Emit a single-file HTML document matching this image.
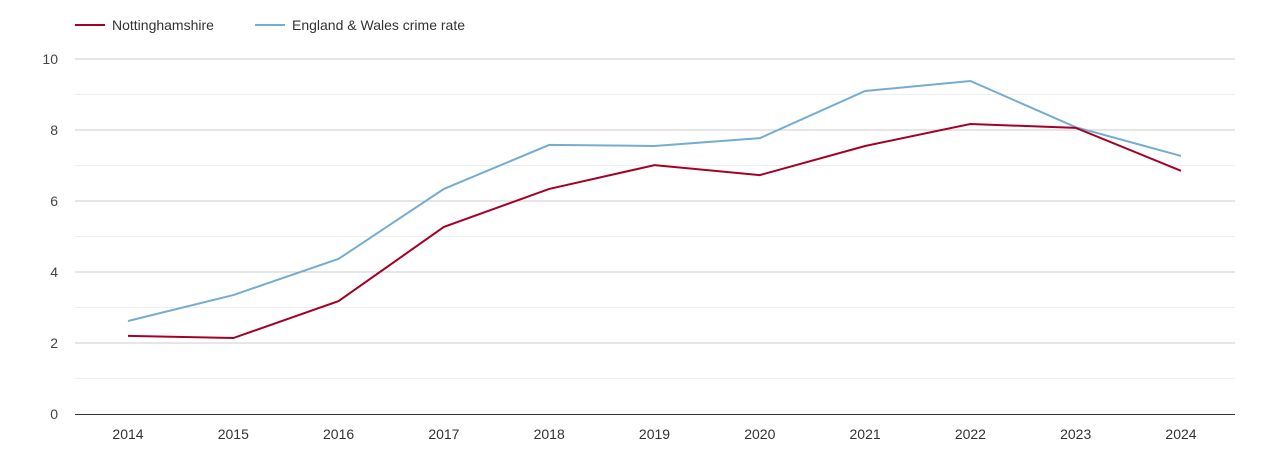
<!DOCTYPE html>
<html><head><meta charset="utf-8"><style>
body{margin:0;background:#fff;font-family:"Liberation Sans",Arial,sans-serif;}
svg{display:block}
</style></head><body>
<svg id="chart" width="1270" height="450">
<g>
<g><line x1="75" y1="25" x2="105" y2="25" stroke="#a50026" stroke-width="2"/><text x="112" y="30" font-size="14" fill="#333">Nottinghamshire</text></g>
<g><line x1="255" y1="25" x2="285" y2="25" stroke="#74add1" stroke-width="2"/><text x="292" y="30" font-size="14" fill="#333">England &amp; Wales crime rate</text></g>
</g>
<g id="grid"></g>
<g id="axes"></g>
<g id="series"></g>
</svg>
<script>
const years=["2014","2015","2016","2017","2018","2019","2020","2021","2022","2023","2024"];
const notts=[2.2,2.14,3.18,5.27,6.34,7.01,6.73,7.55,8.17,8.06,6.85];
const ew=[2.62,3.35,4.37,6.34,7.58,7.55,7.77,9.1,9.38,8.08,7.27];
const yTicks=[0,2,4,6,8,10];
const NS="http://www.w3.org/2000/svg";
const L=75,R=1235,Y0=414,Y10=59;
const x=i=>128+i*(1181-128)/(years.length-1);
const y=v=>Y0-(v/10)*(Y0-Y10);
function mk(tag,attrs,parent){const e=document.createElementNS(NS,tag);for(const k in attrs)e.setAttribute(k,attrs[k]);parent.appendChild(e);return e;}
const grid=document.getElementById('grid'),axes=document.getElementById('axes'),series=document.getElementById('series');
for(let v=1;v<10;v+=2){const g=mk('line',{x1:L,x2:R,y1:y(v),y2:y(v),stroke:'#eeeeee'},grid);}
yTicks.forEach(v=>{
 if(v>0){const g=mk('line',{x1:L,x2:R,y1:y(v),y2:y(v),stroke:'#cccccc'},grid);}
 const t=mk('text',{x:58,y:y(v)+5,'text-anchor':'end','font-size':14,fill:'#444'},axes);t.textContent=v;
 
});
const ax=mk('line',{x1:L,x2:R,y1:Y0+0.5,y2:Y0+0.5,stroke:'#333'},axes);

years.forEach((yr,i)=>{const t=mk('text',{x:x(i),y:439,'text-anchor':'middle','font-size':14,fill:'#333'},axes);t.textContent=yr;
 });
function line(data,color,name){const p=mk('polyline',{points:data.map((v,i)=>x(i)+','+y(v)).join(' '),fill:'none',stroke:color,'stroke-width':2},series);
 }
line(ew,'#74add1','england-wales-line');
line(notts,'#a50026','nottinghamshire-line');
</script>
</body></html>
